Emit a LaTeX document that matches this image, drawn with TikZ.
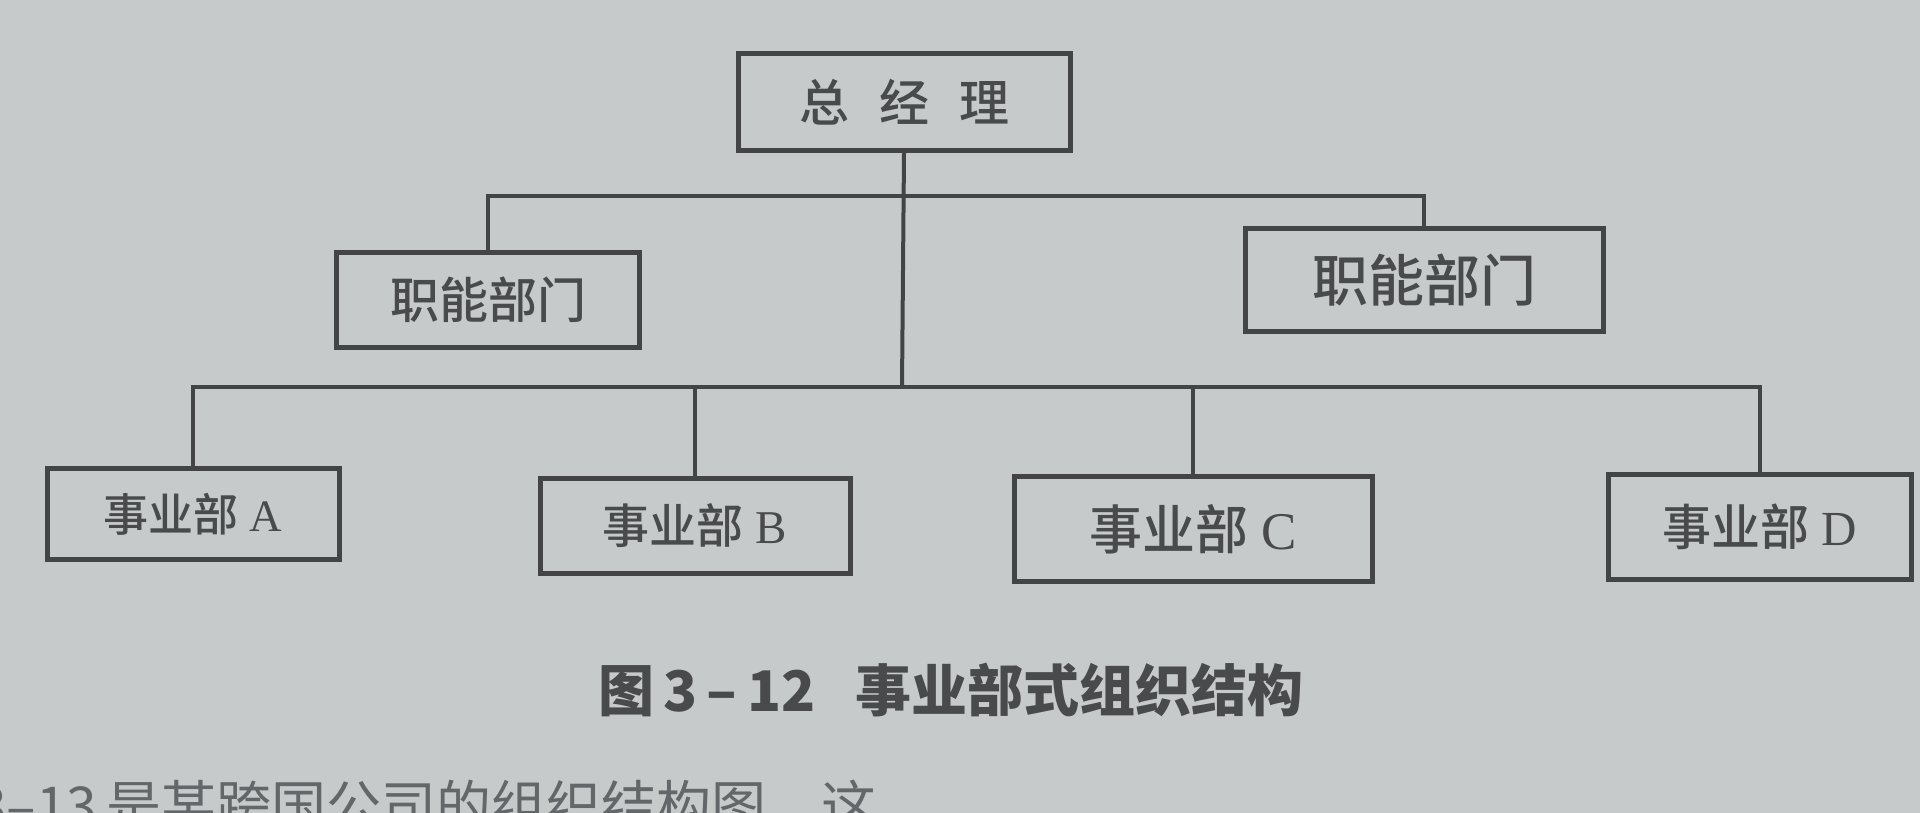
\documentclass[tikz,border=0pt]{standalone}
\usepackage{fontspec}
\setmainfont{Liberation Serif}
\newfontfamily\cjk{Noto Sans CJK SC}
\newfontfamily\cjkm{Noto Sans CJK SC Medium}
\definecolor{bg}{RGB}{199,202,203}
\definecolor{ink}{RGB}{66,68,70}
\definecolor{txt}{RGB}{72,74,76}
\definecolor{faint}{RGB}{100,103,106}
\tikzset{
  orgbox/.style={draw=ink, line width=5pt, rectangle, inner sep=0pt, text=txt},
  conn/.style={draw=ink, line width=4pt},
}
\begin{document}
\begin{tikzpicture}[x=1pt,y=-1pt]
\useasboundingbox (0,0) rectangle (1920,813);
\fill[bg] (0,0) rectangle (1920,813);
\begin{scope}
\clip (0,0) rectangle (1920,813);
% top box
\node[orgbox, minimum width=332pt, minimum height=97pt] (gm) at (904,102)
  {\fontsize{50}{54}\selectfont\cjkm 总\hspace{30pt}经\hspace{30pt}理};
% functional departments
\node[orgbox, minimum width=303pt, minimum height=95pt] (f1) at (488,300)
  {\fontsize{49}{52}\selectfont\cjkm 职能部门};
\node[orgbox, minimum width=358pt, minimum height=103pt] (f2) at (1424,280)
  {\fontsize{56}{58}\selectfont\cjkm 职能部门};
% divisions
\node[orgbox, minimum width=292pt, minimum height=91pt] (da) at (193,514)
  {\fontsize{45}{48}\selectfont{\cjkm 事业部} A};
\node[orgbox, minimum width=310pt, minimum height=95pt] (db) at (695,526)
  {\fontsize{47}{50}\selectfont{\cjkm 事业部} B};
\node[orgbox, minimum width=358pt, minimum height=105pt] (dc) at (1193,529)
  {\fontsize{53}{56}\selectfont{\cjkm 事业部} C};
\node[orgbox, minimum width=303pt, minimum height=105pt] (dd) at (1760,527)
  {\fontsize{49}{52}\selectfont{\cjkm 事业部} D};
% junction coordinates
\coordinate (up) at (902,196);
\coordinate (low) at (902,387);
% connectors
\draw[conn] (gm.south) -- (low);
\draw[conn] (f1.north) |- (up) -| (f2.north);
\draw[conn] (da.north) |- (low) -| (dd.north);
\draw[conn] (db.north) -- (db.north |- low);
\draw[conn] (dc.north) -- (dc.north |- low);
% caption
\node[anchor=west, text=txt, inner sep=0pt] (cap) at (598,690)
  {\fontsize{56}{60}\selectfont\cjk\bfseries 图\,3\,–\,12\hspace{40pt}事业部式组织结构};
% cut-off text line at the bottom
\node[anchor=west, text=faint, inner sep=0pt] (next) at (-24,806)
  {\fontsize{55}{60}\selectfont\cjk 3–13\,是某跨国公司的组织结构图，这};
\end{scope}
\end{tikzpicture}
\end{document}
